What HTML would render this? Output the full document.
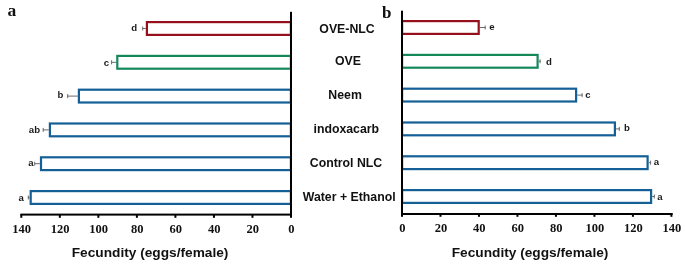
<!DOCTYPE html><html><head><meta charset="utf-8"><style>html,body{margin:0;padding:0;background:#fff;width:685px;height:264px;overflow:hidden}svg{display:block;will-change:transform}.s{font-family:"Liberation Sans",sans-serif;font-weight:bold}.r{font-family:"Liberation Serif",serif;font-weight:bold}</style></head><body>
<svg width="685" height="264" viewBox="0 0 685 264">
<rect width="685" height="264" fill="#fff"/>
<rect x="146.90" y="22.10" width="144.00" height="12.80" fill="none" stroke="#960f1c" stroke-width="2.2"/>
<rect x="402.10" y="21.10" width="76.60" height="12.80" fill="none" stroke="#960f1c" stroke-width="2.2"/>
<rect x="117.30" y="55.90" width="173.60" height="12.80" fill="none" stroke="#15885a" stroke-width="2.2"/>
<rect x="402.10" y="54.90" width="135.50" height="12.80" fill="none" stroke="#15885a" stroke-width="2.2"/>
<rect x="78.90" y="89.70" width="212.00" height="12.80" fill="none" stroke="#135f96" stroke-width="2.2"/>
<rect x="402.10" y="88.70" width="174.00" height="12.80" fill="none" stroke="#135f96" stroke-width="2.2"/>
<rect x="49.90" y="123.50" width="241.00" height="12.80" fill="none" stroke="#135f96" stroke-width="2.2"/>
<rect x="402.10" y="122.50" width="212.80" height="12.80" fill="none" stroke="#135f96" stroke-width="2.2"/>
<rect x="41.00" y="157.30" width="249.90" height="12.80" fill="none" stroke="#135f96" stroke-width="2.2"/>
<rect x="402.10" y="156.30" width="245.50" height="12.80" fill="none" stroke="#135f96" stroke-width="2.2"/>
<rect x="30.70" y="191.10" width="260.20" height="12.80" fill="none" stroke="#135f96" stroke-width="2.2"/>
<rect x="402.10" y="190.10" width="249.00" height="12.80" fill="none" stroke="#135f96" stroke-width="2.2"/>
<path d="M145.80 28.50H142.30M142.70 26.50V30.50" stroke="#6a6a6a" stroke-width="1" fill="none"/>
<path d="M479.80 27.50H485.60M485.20 25.50V29.50" stroke="#6a6a6a" stroke-width="1" fill="none"/>
<path d="M116.20 62.30H111.20M111.60 60.30V64.30" stroke="#6a6a6a" stroke-width="1" fill="none"/>
<path d="M538.70 61.30H540.50M540.10 59.30V63.30" stroke="#6a6a6a" stroke-width="1" fill="none"/>
<path d="M77.80 96.10H67.30M67.70 94.10V98.10" stroke="#6a6a6a" stroke-width="1" fill="none"/>
<path d="M577.20 95.10H582.50M582.10 93.10V97.10" stroke="#6a6a6a" stroke-width="1" fill="none"/>
<path d="M48.80 129.90H42.80M43.20 127.90V131.90" stroke="#6a6a6a" stroke-width="1" fill="none"/>
<path d="M616.00 128.90H619.70M619.30 126.90V130.90" stroke="#6a6a6a" stroke-width="1" fill="none"/>
<path d="M39.90 163.70H34.30M34.70 161.70V165.70" stroke="#6a6a6a" stroke-width="1" fill="none"/>
<path d="M648.70 162.70H651.00M650.60 160.70V164.70" stroke="#6a6a6a" stroke-width="1" fill="none"/>
<path d="M29.60 197.50H27.90M28.30 195.50V199.50" stroke="#6a6a6a" stroke-width="1" fill="none"/>
<path d="M652.20 196.50H654.70M654.30 194.50V198.50" stroke="#6a6a6a" stroke-width="1" fill="none"/>
<text class="s" x="137.00" y="31.00" font-size="9.6" text-anchor="end" fill="#1a1a1a">d</text>
<text class="s" x="489.20" y="30.30" font-size="9.6" fill="#1a1a1a">e</text>
<text class="s" x="109.00" y="65.70" font-size="9.6" text-anchor="end" fill="#1a1a1a">c</text>
<text class="s" x="545.90" y="64.70" font-size="9.6" fill="#1a1a1a">d</text>
<text class="s" x="63.40" y="98.30" font-size="9.6" text-anchor="end" fill="#1a1a1a">b</text>
<text class="s" x="585.30" y="97.70" font-size="9.6" fill="#1a1a1a">c</text>
<text class="s" x="40.00" y="132.60" font-size="9.6" text-anchor="end" fill="#1a1a1a">ab</text>
<text class="s" x="623.90" y="131.40" font-size="9.6" fill="#1a1a1a">b</text>
<text class="s" x="33.60" y="166.00" font-size="9.6" text-anchor="end" fill="#1a1a1a">a</text>
<text class="s" x="653.70" y="165.30" font-size="9.6" fill="#1a1a1a">a</text>
<text class="s" x="23.90" y="200.70" font-size="9.6" text-anchor="end" fill="#1a1a1a">a</text>
<text class="s" x="657.20" y="199.70" font-size="9.6" fill="#1a1a1a">a</text>
<rect x="290.00" y="11.8" width="2" height="203.70" fill="#000"/>
<rect x="20.5" y="213.6" width="271.50" height="2" fill="#000"/>
<rect x="290.00" y="214" width="2" height="3.8" fill="#000"/>
<text class="r" x="291.30" y="233.1" font-size="12.5" text-anchor="middle" fill="#111">0</text>
<rect x="251.47" y="214" width="2" height="3.8" fill="#000"/>
<text class="r" x="252.77" y="233.1" font-size="12.5" text-anchor="middle" fill="#111">20</text>
<rect x="212.94" y="214" width="2" height="3.8" fill="#000"/>
<text class="r" x="214.24" y="233.1" font-size="12.5" text-anchor="middle" fill="#111">40</text>
<rect x="174.41" y="214" width="2" height="3.8" fill="#000"/>
<text class="r" x="175.71" y="233.1" font-size="12.5" text-anchor="middle" fill="#111">60</text>
<rect x="135.89" y="214" width="2" height="3.8" fill="#000"/>
<text class="r" x="137.19" y="233.1" font-size="12.5" text-anchor="middle" fill="#111">80</text>
<rect x="97.36" y="214" width="2" height="3.8" fill="#000"/>
<text class="r" x="98.66" y="233.1" font-size="12.5" text-anchor="middle" fill="#111">100</text>
<rect x="58.83" y="214" width="2" height="3.8" fill="#000"/>
<text class="r" x="60.13" y="233.1" font-size="12.5" text-anchor="middle" fill="#111">120</text>
<rect x="20.30" y="214" width="2" height="3.8" fill="#000"/>
<text class="r" x="21.60" y="233.1" font-size="12.5" text-anchor="middle" fill="#111">140</text>
<rect x="401.00" y="10.7" width="2" height="204.30" fill="#000"/>
<rect x="401.00" y="213" width="271.60" height="2" fill="#000"/>
<rect x="401.00" y="213" width="2" height="3.8" fill="#000"/>
<text class="r" x="402.40" y="231.9" font-size="12.5" text-anchor="middle" fill="#111">0</text>
<rect x="439.49" y="213" width="2" height="3.8" fill="#000"/>
<text class="r" x="440.89" y="231.9" font-size="12.5" text-anchor="middle" fill="#111">20</text>
<rect x="477.97" y="213" width="2" height="3.8" fill="#000"/>
<text class="r" x="479.37" y="231.9" font-size="12.5" text-anchor="middle" fill="#111">40</text>
<rect x="516.46" y="213" width="2" height="3.8" fill="#000"/>
<text class="r" x="517.86" y="231.9" font-size="12.5" text-anchor="middle" fill="#111">60</text>
<rect x="554.94" y="213" width="2" height="3.8" fill="#000"/>
<text class="r" x="556.34" y="231.9" font-size="12.5" text-anchor="middle" fill="#111">80</text>
<rect x="593.43" y="213" width="2" height="3.8" fill="#000"/>
<text class="r" x="594.83" y="231.9" font-size="12.5" text-anchor="middle" fill="#111">100</text>
<rect x="631.91" y="213" width="2" height="3.8" fill="#000"/>
<text class="r" x="633.31" y="231.9" font-size="12.5" text-anchor="middle" fill="#111">120</text>
<rect x="670.40" y="213" width="2" height="3.8" fill="#000"/>
<text class="r" x="671.80" y="231.9" font-size="12.5" text-anchor="middle" fill="#111">140</text>
<text class="s" x="347" y="32.9" font-size="12.3" text-anchor="middle" fill="#111">OVE-NLC</text>
<text class="s" x="348" y="65.0" font-size="12.3" text-anchor="middle" fill="#111">OVE</text>
<text class="s" x="345.1" y="98.8" font-size="12.3" text-anchor="middle" fill="#111">Neem</text>
<text class="s" x="346.3" y="132.8" font-size="12.3" text-anchor="middle" fill="#111">indoxacarb</text>
<text class="s" x="346" y="166.9" font-size="12.3" text-anchor="middle" fill="#111">Control NLC</text>
<text class="s" x="349.2" y="200.8" font-size="12.3" text-anchor="middle" fill="#111">Water + Ethanol</text>
<text class="s" x="150.1" y="257.1" font-size="13.7" text-anchor="middle" fill="#111">Fecundity (eggs/female)</text>
<text class="s" x="530.1" y="257.1" font-size="13.7" text-anchor="middle" fill="#111">Fecundity (eggs/female)</text>
<text class="r" x="7.4" y="15.5" font-size="17.5" fill="#111">a</text>
<text class="r" x="382" y="17.6" font-size="17" fill="#111">b</text>
</svg></body></html>
